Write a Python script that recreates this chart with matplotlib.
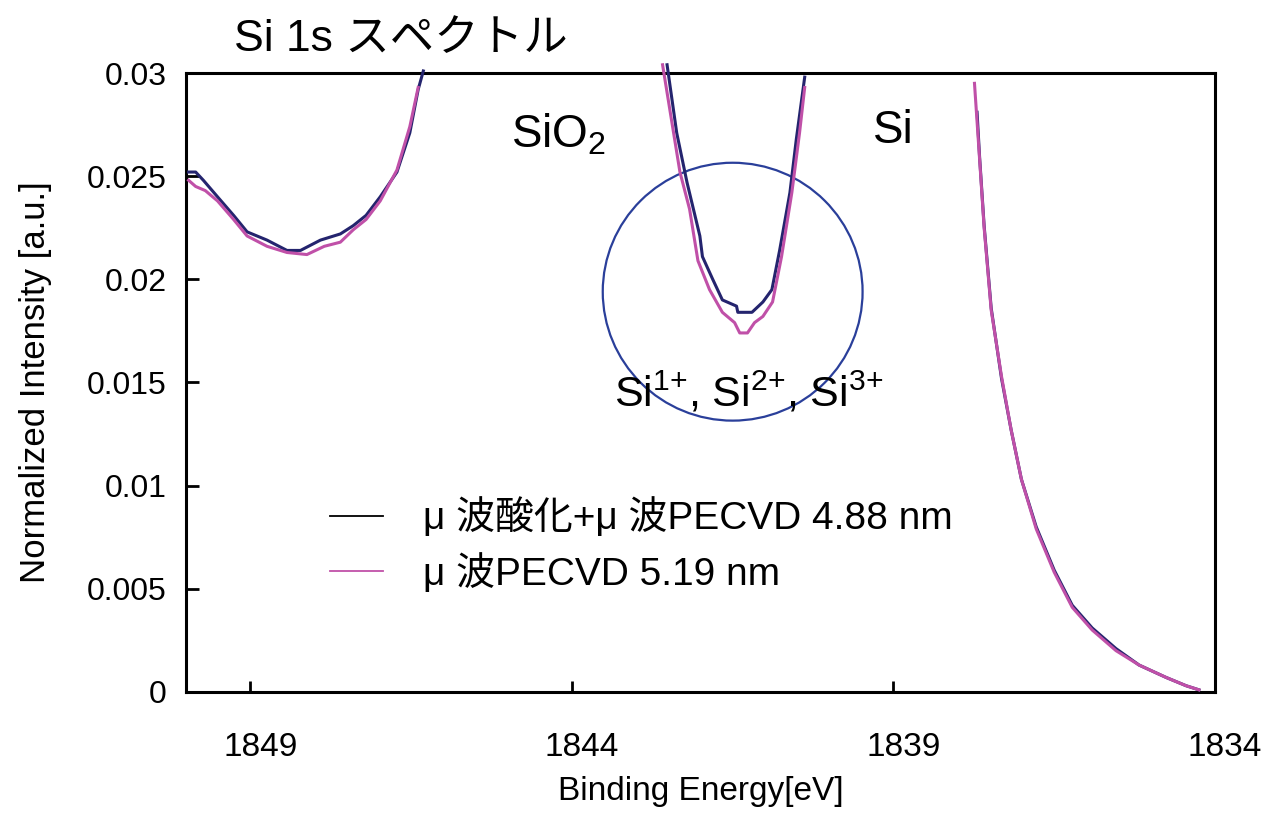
import matplotlib
matplotlib.use('Agg')
import matplotlib.pyplot as plt
from matplotlib.patches import Ellipse
from matplotlib.lines import Line2D
from matplotlib.transforms import ScaledTranslation
import numpy as np

plt.rcParams['font.family'] = ['Liberation Sans', 'Noto Sans CJK JP']
plt.rcParams['mathtext.fontset'] = 'custom'
plt.rcParams['mathtext.rm'] = 'Liberation Sans'
plt.rcParams['mathtext.default'] = 'regular'

nan = np.nan

# μ波酸化+μ波PECVD 4.88 nm  (three visible pieces, separated by NaN)
e_ox = [1849.96, 1849.85, 1849.73, 1849.51, 1849.26, 1849.05, 1848.74, 1848.43, 1848.22,
        1847.91, 1847.60, 1847.40, 1847.20, 1846.98, 1846.72, 1846.52, 1846.39, 1846.31, nan,
        1842.52, 1842.37, 1842.21, 1842.01, 1841.97, 1841.81, 1841.66, 1841.44, 1841.42,
        1841.20, 1841.03, 1840.89, 1840.77, 1840.61, 1840.51, 1840.38, nan,
        1837.70, 1837.66, 1837.59, 1837.48, 1837.32, 1837.17, 1837.01, 1836.78, 1836.50,
        1836.22, 1835.91, 1835.54, 1835.18, 1834.76, 1834.45, 1834.25]
i_ox = [0.0252, 0.0252, 0.0248, 0.0240, 0.0231, 0.0223, 0.0219, 0.0214, 0.0214,
        0.0219, 0.0222, 0.0226, 0.0231, 0.0240, 0.0252, 0.0271, 0.0292, 0.0301, nan,
        0.0304, 0.0271, 0.0247, 0.0221, 0.0211, 0.0200, 0.0190, 0.0187, 0.0184,
        0.0184, 0.0189, 0.0195, 0.0214, 0.0242, 0.0268, 0.0298, nan,
        0.0281, 0.0259, 0.0226, 0.0186, 0.0152, 0.0127, 0.0103, 0.0080, 0.0059,
        0.0042, 0.0031, 0.0021, 0.0013, 0.0007, 0.0003, 0.0001]

# μ波PECVD 5.19 nm
e_pe = [1849.96, 1849.85, 1849.70, 1849.51, 1849.26, 1849.05, 1848.74, 1848.43, 1848.12,
        1847.85, 1847.60, 1847.40, 1847.20, 1846.98, 1846.72, 1846.52, 1846.39, nan,
        1842.59, 1842.32, 1842.17, 1842.04, 1841.86, 1841.66, 1841.47, 1841.39, 1841.27,
        1841.16, 1841.03, 1840.88, 1840.74, 1840.58, 1840.46, 1840.38, nan,
        1837.74, 1837.66, 1837.59, 1837.48, 1837.32, 1837.17, 1837.01, 1836.78, 1836.50,
        1836.22, 1835.91, 1835.54, 1835.18, 1834.76, 1834.45, 1834.25]
i_pe = [0.0248, 0.0245, 0.0243, 0.0238, 0.0229, 0.0221, 0.0216, 0.0213, 0.0212,
        0.0216, 0.0218, 0.0224, 0.0229, 0.0238, 0.0253, 0.0274, 0.0293, nan,
        0.0304, 0.0252, 0.0234, 0.0209, 0.0195, 0.0184, 0.0179, 0.0174, 0.0174,
        0.0179, 0.0182, 0.0189, 0.0211, 0.0242, 0.0271, 0.0293, nan,
        0.0295, 0.0258, 0.0225, 0.0185, 0.0153, 0.0127, 0.0103, 0.0079, 0.0058,
        0.0041, 0.0030, 0.0020, 0.0013, 0.0007, 0.0003, 0.0001]

labels = ['μ 波酸化+μ 波PECVD 4.88 nm', 'μ 波PECVD 5.19 nm']
x_ticks = [1849, 1844, 1839, 1834]
y_ticks = [0, 0.005, 0.01, 0.015, 0.02, 0.025, 0.03]
y_ticklabels = ['0', '0.005', '0.01', '0.015', '0.02', '0.025', '0.03']

fig = plt.figure(figsize=(12.74, 8.14), dpi=100)
ax = fig.add_axes([0.146, 0.15, 0.8077, 0.7603])

ax.plot(e_ox, i_ox, color='#24246e', lw=2.2, clip_on=False, zorder=3)
ax.plot(e_pe, i_pe, color='#c050a8', lw=2.2, clip_on=False, zorder=3)

ax.set_xlim(1850, 1834)
ax.set_ylim(0, 0.03)
ax.set_xticks(x_ticks)
ax.set_xticklabels([str(t) for t in x_ticks])
ax.set_yticks(y_ticks)
ax.set_yticklabels(y_ticklabels)
ax.tick_params(axis='x', direction='in', length=8, width=2, labelsize=24, pad=29)
ax.tick_params(axis='y', direction='in', length=9, width=2, labelsize=23, pad=14)
for lab in ax.get_xticklabels():
    lab.set_transform(lab.get_transform() + ScaledTranslation(0.1, 0, fig.dpi_scale_trans))
for s in ax.spines.values():
    s.set_linewidth(2.2)

ax.set_xlabel('Binding Energy[eV]', fontsize=24, labelpad=9)
ax.set_ylabel('Normalized Intensity [a.u.]', fontsize=25, labelpad=25)

# highlight circle
ax.add_patch(Ellipse((1841.5, 0.0194), 4.04, 0.0125, fill=False,
                     edgecolor='#2a3f9a', lw=1.6, zorder=2))

ax.text(1844.2, 0.0270, 'SiO$_2$', fontsize=33, ha='center', va='center')
ax.text(1839.0, 0.0272, 'Si', fontsize=33, ha='center', va='center')
ax.text(1841.25, 0.0145, 'Si$^{1{+}}$, Si$^{2{+}}$, Si$^{3{+}}$', fontsize=31,
        ha='center', va='center')

fig.text(0.315, 0.952, 'Si 1s スペクトル', fontsize=32, ha='center', va='center')

handles = [Line2D([], [], color='black', lw=1.3), Line2D([], [], color='#c050a8', lw=1.3)]
ax.legend(handles, labels, loc='center left', bbox_to_anchor=(0.14, 0.237), frameon=False,
          fontsize=28, handlelength=1.35, handletextpad=1.05, labelspacing=0.4,
          borderpad=0, borderaxespad=0)

fig.savefig('out.png', dpi=100)
